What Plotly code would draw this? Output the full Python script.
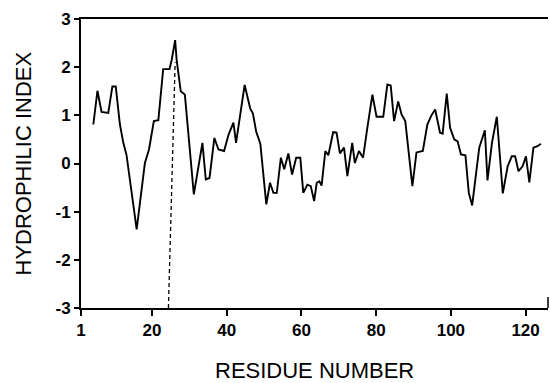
import plotly.graph_objects as go

# Traced hydrophilicity profile (residue number, hydrophilic index)
residue = [4.3, 5.4, 6.5, 8.3, 9.4, 10.3, 11.4, 12.3, 13.2, 15.9, 18.1, 19.2, 20.5, 21.7,
           23.0, 24.7, 25.3, 26.2, 26.6, 27.7, 28.8, 31.2, 33.5, 34.4, 35.4, 36.7, 37.8,
           39.3, 40.5, 41.8, 42.5, 44.8, 46.3, 47.0, 47.9, 49.0, 50.6, 51.6, 52.5, 53.4,
           54.5, 55.4, 56.5, 57.5, 58.6, 59.7, 60.5, 61.6, 62.5, 63.4, 64.1, 64.8, 65.4,
           66.4, 67.2, 68.5, 69.4, 70.3, 71.4, 72.3, 73.6, 74.3, 75.4, 76.5, 77.7, 79.0,
           80.1, 81.9, 83.0, 83.9, 84.8, 85.9, 86.8, 87.8, 89.7, 90.8, 92.5, 93.7, 94.8,
           95.8, 97.1, 97.8, 98.9, 99.8, 100.9, 101.8, 102.7, 103.9, 104.8, 105.7, 107.6,
           109.1, 109.8, 111.0, 112.3, 113.9, 115.2, 116.3, 117.2, 118.1, 119.2, 120.1,
           121.0, 122.1, 123.2, 124.1]
index = [0.81, 1.51, 1.07, 1.05, 1.60, 1.60, 0.82, 0.44, 0.17, -1.37, 0.01, 0.29, 0.88, 0.90,
         1.96, 1.96, 2.16, 2.56, 2.15, 1.50, 1.43, -0.64, 0.43, -0.33, -0.30, 0.53, 0.29,
         0.26, 0.60, 0.85, 0.43, 1.63, 1.14, 1.04, 0.66, 0.41, -0.85, -0.40, -0.61, -0.61,
         0.12, -0.12, 0.21, -0.23, 0.12, 0.12, -0.61, -0.44, -0.47, -0.78, -0.40, -0.37, -0.46,
         0.26, 0.17, 0.65, 0.64, 0.21, 0.33, -0.26, 0.43, 0.01, 0.26, 0.12, 0.77, 1.43,
         0.97, 0.97, 1.64, 1.62, 0.88, 1.29, 1.02, 0.88, -0.47, 0.23, 0.26, 0.81, 1.00,
         1.12, 0.64, 0.62, 1.45, 0.74, 0.50, 0.46, 0.19, 0.17, -0.61, -0.87, 0.33,
         0.69, -0.35, 0.43, 0.97, -0.62, -0.06, 0.15, 0.15, -0.16, -0.06, 0.15,
         -0.39, 0.33, 0.36, 0.41]

# Dashed marker line
marker_x = [24.4, 26.2]
marker_y = [-3, 2.1]

x_ticks = [1, 20, 40, 60, 80, 100, 120]
y_ticks = [-3, -2, -1, 0, 1, 2, 3]

fig = go.Figure()
fig.add_trace(go.Scatter(x=residue, y=index, mode="lines",
                         line=dict(color="black", width=1.9), showlegend=False))
fig.add_trace(go.Scatter(x=marker_x, y=marker_y, mode="lines",
                         line=dict(color="black", width=1.3, dash="4px,3px"), showlegend=False))

fam = "Liberation Sans, Arial, sans-serif"
tick_font = dict(family=fam, size=17, color="black", weight="bold")
title_font = dict(family=fam, size=22, color="black")

fig.update_layout(
    width=550, height=383,
    margin=dict(l=81, r=2, t=19, b=75),
    paper_bgcolor="white", plot_bgcolor="white",
    xaxis=dict(range=[1, 126], tickvals=x_ticks, ticktext=[str(v) for v in x_ticks],
               ticks="outside", ticklen=6, tickwidth=2, tickcolor="black",
               showline=True, linewidth=2, linecolor="black", mirror=True,
               showgrid=False, zeroline=False, tickfont=tick_font, automargin=False),
    yaxis=dict(range=[-3, 3], tickvals=y_ticks, ticktext=[str(v) for v in y_ticks],
               ticks="outside", ticklen=5, tickwidth=2, tickcolor="black",
               showline=True, linewidth=2, linecolor="black", mirror=False,
               showgrid=False, zeroline=False, tickfont=tick_font, automargin=False),
    shapes=[dict(type="line", xref="paper", yref="paper", x0=1, x1=1, y0=0, y1=11 / 289,
                 line=dict(color="black", width=1.5))],
    annotations=[
        dict(text="RESIDUE NUMBER", xref="paper", yref="paper", x=0.5, y=-62 / 289,
             xanchor="center", yanchor="middle", showarrow=False, font=title_font),
        dict(text="HYDROPHILIC INDEX", xref="paper", yref="paper", x=-58 / 467, y=0.5,
             xanchor="center", yanchor="middle", showarrow=False, textangle=-90,
             font=title_font),
    ],
)

fig.write_html("out.html", config={"displayModeBar": False},
               post_script="document.body.style.margin='0';document.body.style.overflow='hidden';")
